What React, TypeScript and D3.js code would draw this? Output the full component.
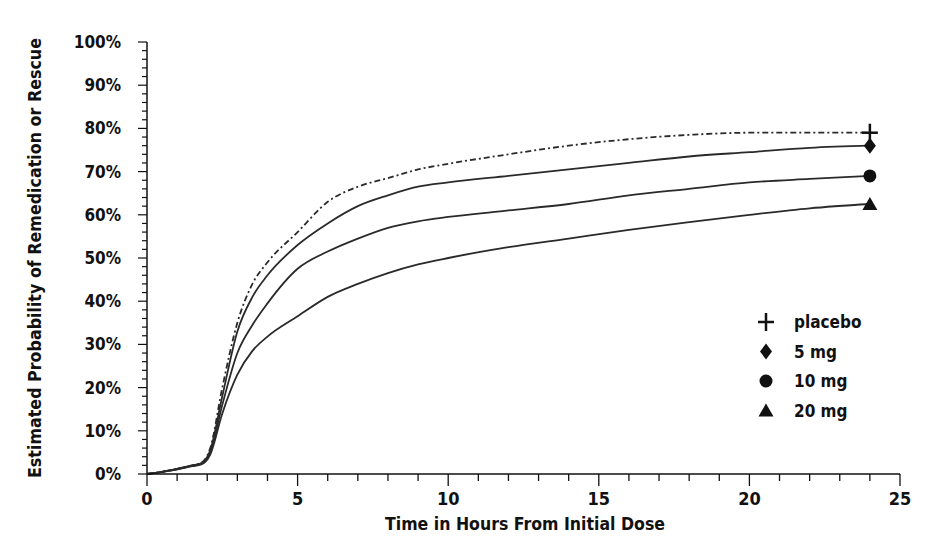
import React from "react";
import * as d3 from "d3";

const timeHours = [0, 0.5, 1, 1.5, 1.8, 2.1, 2.5, 3, 3.5, 4, 5, 6, 7, 8, 9, 10, 12, 14, 16, 18, 20, 22, 24];
const placebo = [0, 0.5, 1.2, 2, 2.6, 6, 20, 35, 44, 49, 56, 63, 66.5, 68.5, 70.5, 71.8, 74, 76, 77.5, 78.5, 79, 79, 79];
const mg5 = [0, 0.5, 1.2, 2, 2.5, 5.5, 18, 33, 41, 46, 53, 58, 62, 64.5, 66.5, 67.5, 69, 70.5, 72, 73.5, 74.5, 75.5, 76];
const mg10 = [0, 0.5, 1.1, 1.9, 2.4, 5, 16, 28, 34.5, 39.5, 47.5, 51.5, 54.5, 57, 58.5, 59.5, 61, 62.5, 64.5, 66, 67.5, 68.3, 69];
const mg20 = [0, 0.5, 1.1, 1.8, 2.2, 4.5, 14, 23, 28.5, 31.8, 36.5, 41, 44, 46.5, 48.5, 50, 52.5, 54.5, 56.5, 58.3, 60, 61.5, 62.5];

const seriesNames = ["placebo", "5 mg", "10 mg", "20 mg"];
const seriesValues = [placebo, mg5, mg10, mg20];
const seriesSymbols = ["plus", "diamond", "circle", "triangle"];

const xTicks = [0, 5, 10, 15, 20, 25];
const yTicks = [0, 10, 20, 30, 40, 50, 60, 70, 80, 90, 100];

const FONT = "'DejaVu Sans', sans-serif";

function Marker({ type, x, y }: { type: string; x: number; y: number }) {
  if (type === "plus") {
    return (
      <g>
        <line x1={x - 8} x2={x + 8} y1={y} y2={y} stroke="#111" strokeWidth={2.5} />
        <line x1={x} x2={x} y1={y - 9} y2={y + 9} stroke="#111" strokeWidth={2.5} />
      </g>
    );
  }
  if (type === "diamond") {
    return <path d={`M${x},${y - 8}L${x + 6},${y}L${x},${y + 8}L${x - 6},${y}Z`} fill="#111" />;
  }
  if (type === "circle") {
    return <circle cx={x} cy={y} r={6.5} fill="#111" />;
  }
  return <path d={`M${x},${y - 7}L${x + 7.5},${y + 6}L${x - 7.5},${y + 6}Z`} fill="#111" />;
}

export default function App() {
  const x = d3.scaleLinear().domain([0, 25]).range([147, 900]);
  const y = d3.scaleLinear().domain([0, 100]).range([474, 42]);

  const line = d3
    .line<number>()
    .x((_, i) => x(timeHours[i]))
    .y((d) => y(d))
    .curve(d3.curveMonotoneX);

  const minorX = d3.range(0, 26, 1);
  const minorY = d3.range(0, 101, 2);

  const txt = { fontWeight: "bold", fill: "#111", style: { fontStretch: "condensed" } } as any;

  return (
    <svg
      width={944}
      height={554}
      style={{ position: "absolute", left: 0, top: 0, background: "#fff" }}
      fontFamily={FONT}
    >
      {seriesValues.map((vals, i) => (
        <path
          key={seriesNames[i]}
          d={line(vals) || ""}
          fill="none"
          stroke="#2a2a2a"
          strokeWidth={1.8}
          strokeDasharray={i === 0 ? "6,3,2,3" : undefined}
        />
      ))}
      {seriesValues.map((vals, i) => (
        <Marker key={"m" + i} type={seriesSymbols[i]} x={x(24)} y={y(vals[vals.length - 1])} />
      ))}

      <line x1={x(0)} x2={x(25)} y1={y(0)} y2={y(0)} stroke="#111" strokeWidth={1.5} />
      {minorX.map((t) => (
        <line
          key={"xt" + t}
          x1={x(t)}
          x2={x(t)}
          y1={y(0)}
          y2={y(0) + (t % 5 === 0 ? 12 : 7)}
          stroke="#111"
          strokeWidth={1.3}
        />
      ))}
      {xTicks.map((t) => (
        <text key={"xl" + t} x={x(t)} y={y(0) + 31} textAnchor="middle" fontSize={18} {...txt}>
          {t}
        </text>
      ))}
      <text x={525} y={530} textAnchor="middle" fontSize={18} textLength={280} lengthAdjust="spacingAndGlyphs" {...txt}>
        Time in Hours From Initial Dose
      </text>

      <line x1={x(0)} x2={x(0)} y1={y(0)} y2={y(100)} stroke="#111" strokeWidth={1.5} />
      {minorY.map((v) => (
        <line
          key={"yt" + v}
          x1={x(0) - (v % 10 === 0 ? 9 : 5)}
          x2={x(0)}
          y1={y(v)}
          y2={y(v)}
          stroke="#111"
          strokeWidth={1.2}
        />
      ))}
      {yTicks.map((v) => (
        <text key={"yl" + v} x={121} y={y(v) + 6} textAnchor="end" fontSize={17} {...txt}>
          {v}%
        </text>
      ))}
      <text
        transform={`translate(41,258) rotate(-90)`}
        textAnchor="middle"
        fontSize={17}
        textLength={440}
        lengthAdjust="spacingAndGlyphs"
        {...txt}
      >
        Estimated Probability of Remedication or Rescue
      </text>

      {seriesNames.map((name, i) => (
        <g key={"lg" + i}>
          <Marker type={seriesSymbols[i]} x={766} y={322 + i * 29.5} />
          <text x={794} y={322 + i * 29.5 + 6} fontSize={17} {...txt}>
            {name}
          </text>
        </g>
      ))}
    </svg>
  );
}
